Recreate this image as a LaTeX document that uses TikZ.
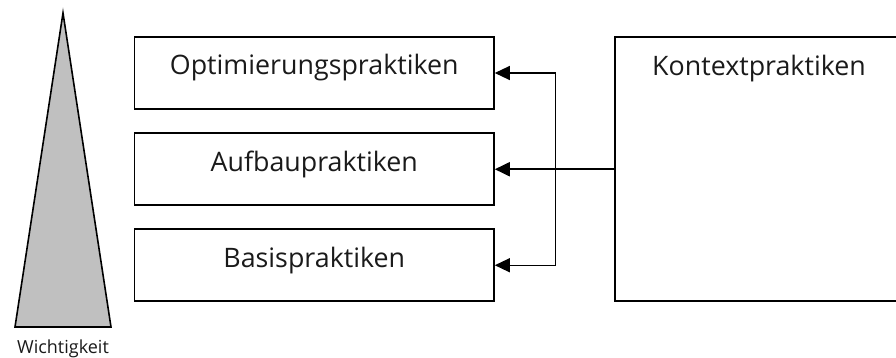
\documentclass[tikz,border=0pt]{standalone}
\usepackage{fontspec}
\setmainfont{Open Sans}
\usetikzlibrary{arrows.meta,calc}
\definecolor{pyramidgray}{HTML}{C0C0C0}
\definecolor{inkblack}{HTML}{1A1A1A}
\tikzset{
  practice/.style={draw=black, line width=1.6pt, inner xsep=0pt, inner ysep=0pt,
    minimum width=359.5pt, text=inkblack,
    font=\fontsize{26.8}{30}\selectfont, text height=38pt, text depth=34pt},
  contextbox/.style={practice, minimum width=288pt, text depth=226pt},
  link/.style={draw=black, line width=1.3pt, -{Triangle[length=15pt,width=14pt]}},
  mainlink/.style={link, line width=1.9pt},
  caption/.style={text=inkblack, font=\fontsize{18}{20}\selectfont, inner sep=0pt, anchor=base}
}
\begin{document}
\begin{tikzpicture}[x=1pt,y=-1pt]
  \useasboundingbox (0,0) rectangle (896,358);
  \clip (0,0) rectangle (896,358);

  % importance pyramid
  \draw[line width=1.6pt, fill=pyramidgray, line join=miter] (63,13) -- (111,327) -- (15,327) -- cycle;
  \node[caption] (wichtigkeit) at (63,353) {Wichtigkeit};

  % the three practice levels
  \node[practice] (opt)    at (314.25,73)    {Optimierungspraktiken};
  \node[practice] (aufbau) at (314.25,169.25) {Aufbaupraktiken};
  \node[practice] (basis)  at (314.25,265.25) {Basispraktiken};

  % context practices, running off the right edge
  \node[contextbox] (kontext) at (759,169.25) {Kontextpraktiken};

  % distribution bus
  \coordinate (bus) at (555.5,169.25);
  \draw[link] (bus |- basis.east) -- (bus |- opt.east) -- (opt.east);
  \draw[link] (bus |- basis.east) -- (basis.east);
  \draw[mainlink] (kontext.west) -- (aufbau.east);
\end{tikzpicture}
\end{document}
